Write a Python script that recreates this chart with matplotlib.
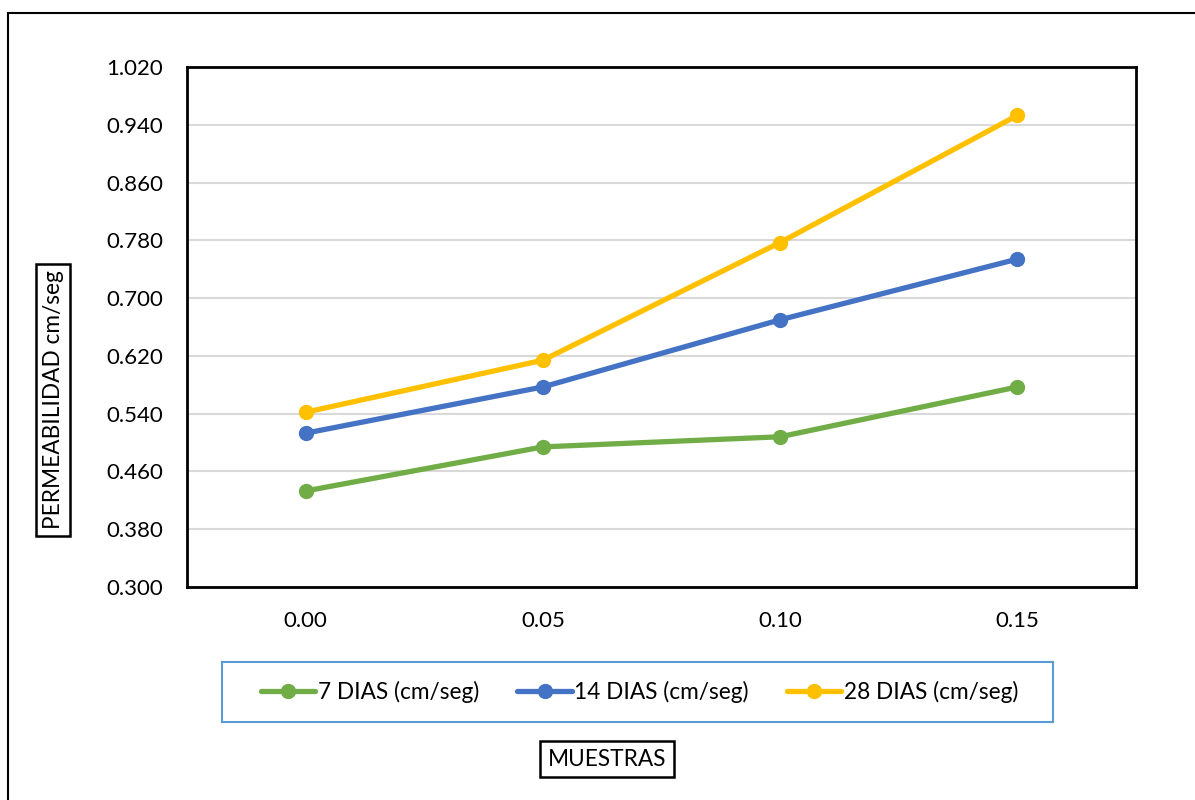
import matplotlib
matplotlib.use("Agg")
import matplotlib.pyplot as plt
from matplotlib.patches import Rectangle

plt.rcParams['font.family'] = ['Lato', 'DejaVu Sans']

categories = ["0.00", "0.05", "0.10", "0.15"]
dias_7 = [0.433, 0.494, 0.508, 0.577]
dias_14 = [0.513, 0.577, 0.670, 0.754]
dias_28 = [0.542, 0.614, 0.777, 0.953]
series_labels = ["7 DIAS (cm/seg)", "14 DIAS (cm/seg)", "28 DIAS (cm/seg)"]
y_ticks = [0.300, 0.380, 0.460, 0.540, 0.620, 0.700, 0.780, 0.860, 0.940, 1.020]

colors = ["#70AD47", "#4472C4", "#FFC000"]
fs = 16.3

W, H = 1195, 800
fig = plt.figure(figsize=(W / 100, H / 100), dpi=100)

# plot area in pixel coordinates
left, right, top, bottom = 187, 1136, 67, 587
ax = fig.add_axes([left / W, 1 - bottom / H, (right - left) / W, (bottom - top) / H])

x = [i + 0.5 for i in range(len(categories))]
for vals, col, lab in zip([dias_7, dias_14, dias_28], colors, series_labels):
    ax.plot(x, vals, color=col, lw=3.8, marker="o", markersize=10,
            solid_capstyle="round", label=lab, zorder=3)

ax.set_xlim(0, len(categories))
ax.set_ylim(y_ticks[0], y_ticks[-1])
ax.set_yticks(y_ticks)
ax.set_yticklabels([f"{v:.3f}" for v in y_ticks])
ax.set_xticks(x)
ax.set_xticklabels(categories)
ax.tick_params(axis="both", length=0, labelsize=fs - 0.3, colors="black")
ax.tick_params(axis="y", pad=17)
ax.tick_params(axis="x", pad=17)
ax.grid(axis="y", color="#D9D9D9", lw=1.5, zorder=0)
ax.set_axisbelow(True)
for sp in ax.spines.values():
    sp.set_color("black")
    sp.set_linewidth(2)

# outer chart frame
fig.patches.append(Rectangle((8 / W, -0.05), 1.2, 1 - 13 / H + 0.05,
                             transform=fig.transFigure, fill=False,
                             edgecolor="black", lw=1.5))

# legend box
lx0, lx1, ly0, ly1 = 222, 1053, 662, 722
fig.patches.append(Rectangle((lx0 / W, 1 - ly1 / H), (lx1 - lx0) / W, (ly1 - ly0) / H,
                             transform=fig.transFigure, fill=False,
                             edgecolor="#5B9BD5", lw=1.5))
handles, labels = ax.get_legend_handles_labels()
fig.legend(handles, labels, loc="center", ncol=3, frameon=False,
           bbox_to_anchor=((lx0 + lx1) / 2 / W + 2 / W, 1 - (ly0 + ly1) / 2 / H),
           fontsize=fs, handlelength=2.4, handletextpad=0.1,
           columnspacing=1.7, markerscale=1.0)

# axis titles
fig.text(53 / W, 1 - 400 / H, "PERMEABILIDAD cm/seg", rotation=90,
         ha="center", va="center", fontsize=fs,
         bbox=dict(boxstyle="square,pad=0.3", fc="white", ec="black", lw=1.8))
fig.text(607 / W, 1 - 759 / H, "MUESTRAS", ha="center", va="center",
         fontsize=fs,
         bbox=dict(boxstyle="square,pad=0.35", fc="white", ec="black", lw=1.8))

fig.savefig("out.png", dpi=100, facecolor="white")
